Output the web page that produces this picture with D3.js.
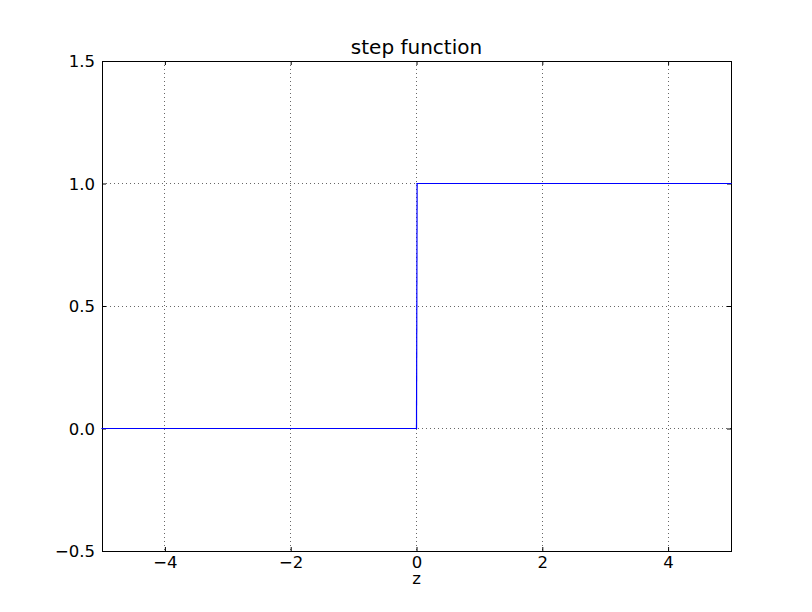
<!DOCTYPE html>
<html><head><meta charset="utf-8">
<script src="https://cdn.jsdelivr.net/npm/d3@7"></script>
<style>body{margin:0;background:#fff}svg{display:block}text{font-family:"DejaVu Sans",sans-serif}</style>
</head><body>
<script>
const title = "step function";
const xLabel = "z";
const xs = [-5, 0, 0.01, 5];
const ys = [0, 0, 1, 1];
const xTicks = [-4, -2, 0, 2, 4];
const yTicks = [-0.5, 0.0, 0.5, 1.0, 1.5];
const xDomain = [-5, 5];
const yDomain = [-0.5, 1.5];

const W = 812, H = 612;
const L = 102, R = 731, T = 61, B = 551;
const svg = d3.select("body").append("svg").attr("width", W).attr("height", H);
const x = d3.scaleLinear().domain(xDomain).range([L, R]);
const y = d3.scaleLinear().domain(yDomain).range([B, T]);
const sy = v => Math.floor(y(v)) + 0.5;

const fmtY = v => (v < 0 ? "\u2212" : "") + Math.abs(v).toFixed(1);
const fmtX = v => (v < 0 ? "\u2212" : "") + Math.abs(v);

// grid
const g = svg.append("g");
xTicks.forEach(v => g.append("line").attr("x1", Math.floor(x(v)) + 0.5).attr("x2", Math.floor(x(v)) + 0.5).attr("y1", T).attr("y2", B)
  .attr("stroke", "#000").attr("stroke-width", 0.6).attr("stroke-dasharray", "1,3"));
yTicks.forEach(v => g.append("line").attr("x1", L).attr("x2", R).attr("y1", sy(v)).attr("y2", sy(v))
  .attr("stroke", "#000").attr("stroke-width", 0.6).attr("stroke-dasharray", "1,3"));

// axes with inward ticks
const ax = (axisFn, sc, vals, fmt, tr) => {
  const a = svg.append("g").attr("transform", tr).call(axisFn(sc).tickValues(vals).tickFormat(fmt).tickSizeInner(-4).tickSizeOuter(0).tickPadding(5));
  a.select(".domain").remove();
  a.selectAll("line").attr("stroke", "#000");
  a.selectAll("text").attr("font-size", "16.5px").attr("fill", "#000");
  return a;
};
ax(d3.axisBottom, x, xTicks, fmtX, `translate(0,${B})`);
ax(d3.axisLeft, y, yTicks, fmtY, `translate(${L},0)`).selectAll("text").attr("x", -7).attr("dy", "0.35em");
ax(d3.axisTop, x, xTicks, "", `translate(0,${T})`).selectAll("text").remove();
ax(d3.axisRight, y, yTicks, "", `translate(${R},0)`).selectAll("text").remove();

// frame
svg.append("rect").attr("x", L + 0.5).attr("y", T + 0.5).attr("width", R - L).attr("height", B - T)
  .attr("fill", "none").attr("stroke", "#000").attr("stroke-width", 1);

// line segments (drawn last, on top)
const segs = d3.pairs(d3.range(xs.length));
svg.append("g").selectAll("line").data(segs).join("line")
  .attr("x1", d => x(xs[d[0]])).attr("y1", d => sy(ys[d[0]]))
  .attr("x2", d => x(xs[d[1]])).attr("y2", d => sy(ys[d[1]]))
  .attr("stroke", "#0000ff").attr("stroke-width", 1.2).attr("stroke-linecap", "square");

svg.append("text").attr("x", (L + R) / 2).attr("y", 54).attr("text-anchor", "middle")
  .attr("font-size", "20px").text(title);
svg.append("text").attr("x", (L + R) / 2).attr("y", 584).attr("text-anchor", "middle")
  .attr("font-size", "16.5px").text(xLabel);
</script>
</body></html>
